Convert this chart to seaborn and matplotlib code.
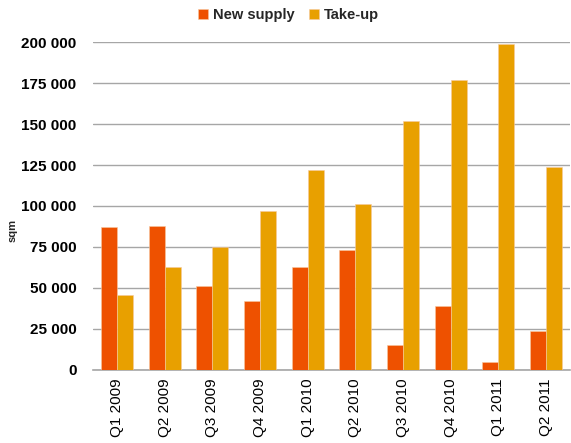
import matplotlib
matplotlib.use("Agg")
import matplotlib.pyplot as plt
from matplotlib.ticker import FuncFormatter
import seaborn as sns
import pandas as pd

quarters = ["Q1 2009", "Q2 2009", "Q3 2009", "Q4 2009", "Q1 2010",
            "Q2 2010", "Q3 2010", "Q4 2010", "Q1 2011", "Q2 2011"]
new_supply = [87000, 88000, 51000, 42000, 63000, 73000, 15000, 39000, 5000, 24000]
take_up = [46000, 63000, 75000, 97000, 122000, 101000, 152000, 177000, 199000, 124000]
series_names = ["New supply", "Take-up"]
colors = ["#EE5100", "#E8A000"]
y_ticks = [0, 25000, 50000, 75000, 100000, 125000, 150000, 175000, 200000]

df = pd.DataFrame({
    "quarter": quarters * 2,
    "value": new_supply + take_up,
    "series": [series_names[0]] * len(quarters) + [series_names[1]] * len(quarters),
})

sns.set_theme(style="white")
plt.rcParams["font.family"] = ["Liberation Sans", "DejaVu Sans"]

fig = plt.figure(figsize=(5.71, 4.43), dpi=100)
ax = fig.add_axes([0.163, 0.165, 0.835, 0.74])

sns.barplot(data=df, x="quarter", y="value", hue="series", palette=colors,
            width=0.67, saturation=1, ax=ax, edgecolor="#F6C9A0", linewidth=0.4,
            zorder=3)

ax.set_ylim(0, 200000)
ax.set_xlim(-0.5, len(quarters) - 0.5)
ax.set_yticks(y_ticks)
ax.yaxis.set_major_formatter(FuncFormatter(lambda v, p: f"{int(v):,}".replace(",", " ")))
ax.grid(axis="y", color="#A6A6A6", linewidth=1.0, zorder=0)
ax.set_axisbelow(True)
for s in ["top", "right", "left"]:
    ax.spines[s].set_visible(False)
ax.spines["bottom"].set_color("#A6A6A6")
ax.spines["bottom"].set_linewidth(1.2)
ax.tick_params(axis="both", length=0)
ax.tick_params(axis="y", pad=12)
for lbl in ax.get_yticklabels():
    lbl.set_fontsize(11)
    lbl.set_fontweight("bold")
    lbl.set_color("black")
ax.set_xticks(range(len(quarters)))
ax.set_xticklabels(quarters, rotation=90, fontsize=11, color="black")
ax.tick_params(axis="x", pad=6)
ax.set_xlabel("")
ax.set_ylabel("")
fig.text(0.022, 0.48, "sqm", rotation=90, fontsize=8, fontweight="bold",
         ha="center", va="center")

leg = ax.get_legend()
if leg is not None:
    leg.remove()
handles, labels = ax.get_legend_handles_labels()
fig.legend(handles, labels, loc="center", bbox_to_anchor=(0.505, 0.966), ncol=2,
           frameon=False, prop={"weight": "bold", "size": 10.5},
           handlelength=0.7, handleheight=0.7, handletextpad=0.3, columnspacing=1.0)

fig.savefig("out.png", dpi=100)
